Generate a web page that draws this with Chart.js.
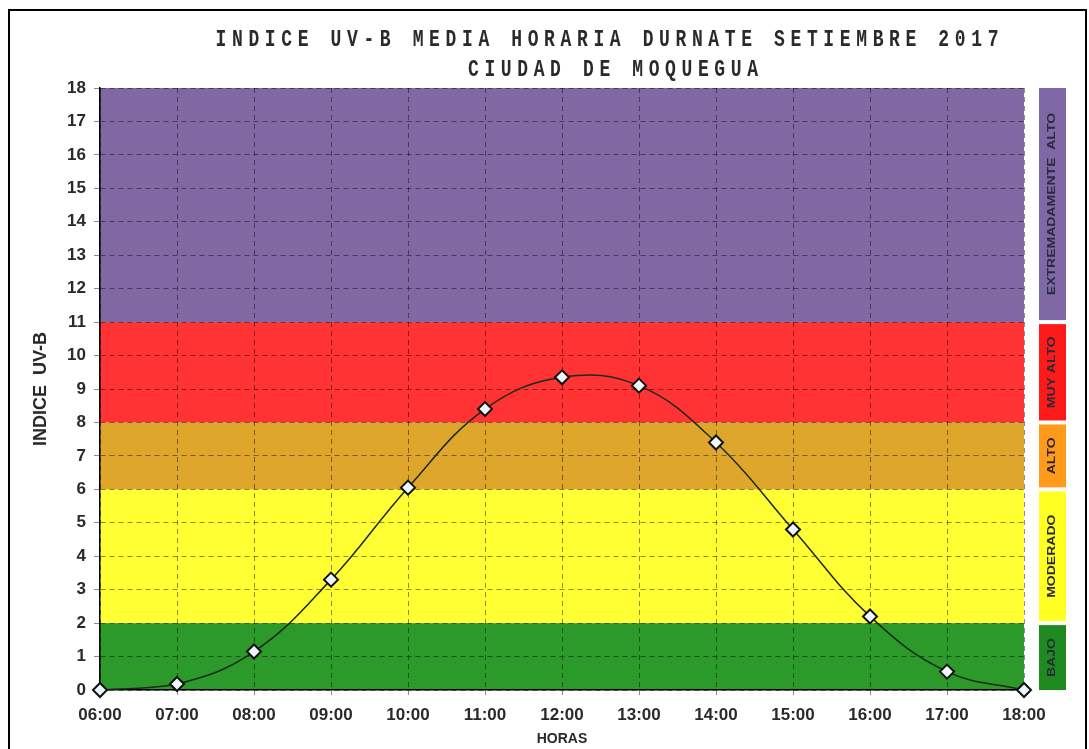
<!DOCTYPE html>
<html>
<head>
<meta charset="utf-8">
<title>Indice UV-B Moquegua</title>
<script src="https://cdn.jsdelivr.net/npm/chart.js@4.4.0/dist/chart.umd.min.js"></script>
<style>
    html, body { margin: 0; padding: 0; background: #fff; }
    #wrap { position: relative; width: 1089px; height: 749px; }
</style>
</head>
<body>
<div id="wrap"><canvas id="uvChart"></canvas></div>
<script>
// Datos
const horas = ['06:00', '07:00', '08:00', '09:00', '10:00', '11:00', '12:00',
    '13:00', '14:00', '15:00', '16:00', '17:00', '18:00'];
const indiceUV = [0, 0.18, 1.15, 3.3, 6.05, 8.4, 9.35, 9.1, 7.4, 4.8, 2.2, 0.55, 0];

// Rangos de riesgo (de abajo hacia arriba)
const rangoLimites = [0, 2, 6, 8, 11, 18];
const rangoNombres = ['BAJO', 'MODERADO', 'ALTO', 'MUY ALTO', 'EXTREMADAMENTE  ALTO'];
const fondoColores = ['#2b9a2b', '#ffff33', '#dea72b', '#ff3333', '#8068a2'];
const leyendaColores = ['#1f8a1f', '#ffff22', '#ff9a1a', '#ff1a1a', '#7e69a6'];

const tituloLineas = ['INDICE UV-B MEDIA HORARIA DURNATE SETIEMBRE 2017', 'CIUDAD DE MOQUEGUA'];

// Fondo de colores por rango
const bandasPlugin = {
    id: 'bandas',
    beforeDraw(chart) {
        const { ctx, chartArea, scales: { y } } = chart;
        ctx.save();
        ctx.fillStyle = '#fff';
        ctx.fillRect(0, 0, chart.width, chart.height);
        for (let i = 0; i < fondoColores.length; i++) {
            const yTop = y.getPixelForValue(rangoLimites[i + 1]);
            const yBot = y.getPixelForValue(rangoLimites[i]);
            ctx.fillStyle = fondoColores[i];
            ctx.fillRect(chartArea.left, yTop, chartArea.right - chartArea.left, yBot - yTop);
        }
        ctx.restore();
    },
    afterDraw(chart) {
        const { ctx, scales: { y } } = chart;
        ctx.save();

        // Titulo: letra estrecha y espaciada
        const centros = [[607, 40], [613, 70]];
        tituloLineas.forEach((txt, i) => {
            ctx.save();
            ctx.translate(centros[i][0], centros[i][1]);
            ctx.scale(0.75, 1);
            ctx.fillStyle = '#2a2a2a';
            ctx.font = 'bold 24px "Liberation Mono"';
            ctx.letterSpacing = '7.5px';
            ctx.textBaseline = 'middle';
            ctx.textAlign = 'left';
            const w = ctx.measureText(txt).width - 7.5;
            ctx.fillText(txt, -w / 2, 0);
            ctx.restore();
        });

        // Columna de leyenda a la derecha
        const x0 = 1039, ancho = 27;
        for (let i = 0; i < leyendaColores.length; i++) {
            const yTop = y.getPixelForValue(rangoLimites[i + 1]) + (i < leyendaColores.length - 1 ? 2 : 0);
            const yBot = y.getPixelForValue(rangoLimites[i]) - (i > 0 ? 2 : 0);
            ctx.fillStyle = leyendaColores[i];
            ctx.fillRect(x0, yTop, ancho, yBot - yTop);
            ctx.save();
            ctx.translate(x0 + ancho / 2, (yTop + yBot) / 2);
            ctx.rotate(-Math.PI / 2);
            ctx.scale(1.4, 1);
            ctx.fillStyle = '#2a2a3a';
            ctx.font = 'bold 10px "Liberation Sans"';
            ctx.textAlign = 'center';
            ctx.textBaseline = 'middle';
            ctx.fillText(rangoNombres[i], 0, 0);
            ctx.restore();
        }

        // Marco exterior (sin borde inferior visible)
        ctx.strokeStyle = '#000';
        ctx.lineWidth = 2;
        ctx.beginPath();
        ctx.moveTo(9, 749);
        ctx.lineTo(9, 10);
        ctx.lineTo(1086, 10);
        ctx.lineTo(1086, 749);
        ctx.stroke();
        ctx.restore();
    }
};

const ctx = document.getElementById('uvChart').getContext('2d');
const uvChart = new Chart(ctx, {
    type: 'line',
    data: {
        labels: horas,
        datasets: [{
            label: 'Indice UV-B',
            data: indiceUV,
            borderColor: '#1c2a1c',
            borderWidth: 1.5,
            tension: 0.4,
            pointStyle: 'rectRot',
            pointRadius: 7,
            pointHoverRadius: 7,
            pointBackgroundColor: '#eef6ff',
            pointBorderColor: '#111',
            pointBorderWidth: 2,
            clip: false
        }]
    },
    options: {
        responsive: true,
        maintainAspectRatio: false,
        animation: false,
        layout: {
            padding: { top: 88, right: 65, bottom: 1, left: 30 }
        },
        plugins: {
            legend: { display: false },
            tooltip: { enabled: false }
        },
        scales: {
            x: {
                offset: false,
                afterFit(scale) { scale.height = 58; },
                grid: {
                    color: 'rgba(0, 0, 0, 0.45)',
                    lineWidth: 1,
                    tickLength: 5
                },
                border: { display: true, color: '#000', width: 1.5, dash: [5, 4] },
                ticks: {
                    color: '#2a2a2a',
                    padding: 10,
                    maxRotation: 0,
                    font: { family: 'Liberation Sans', size: 17, weight: 'bold' }
                },
                title: {
                    display: true,
                    text: 'HORAS',
                    color: '#2a2a2a',
                    padding: { top: 0, bottom: 0 },
                    font: { family: 'Liberation Sans', size: 14, weight: 'bold' }
                }
            },
            y: {
                min: 0,
                max: 18,
                afterFit(scale) { scale.width = 70; },
                grid: {
                    color: 'rgba(0, 0, 0, 0.45)',
                    lineWidth: 1,
                    tickLength: 6
                },
                border: { display: true, color: '#000', width: 1.5, dash: [5, 4] },
                ticks: {
                    stepSize: 1,
                    color: '#2a2a2a',
                    padding: 8,
                    font: { family: 'Liberation Sans', size: 17, weight: 'bold' }
                },
                title: {
                    display: true,
                    text: 'INDICE  UV-B',
                    color: '#2a2a2a',
                    padding: { top: 0, bottom: 0 },
                    font: { family: 'Liberation Sans', size: 18, weight: 'bold' }
                }
            }
        }
    },
    plugins: [bandasPlugin]
});
</script>
</body>
</html>
